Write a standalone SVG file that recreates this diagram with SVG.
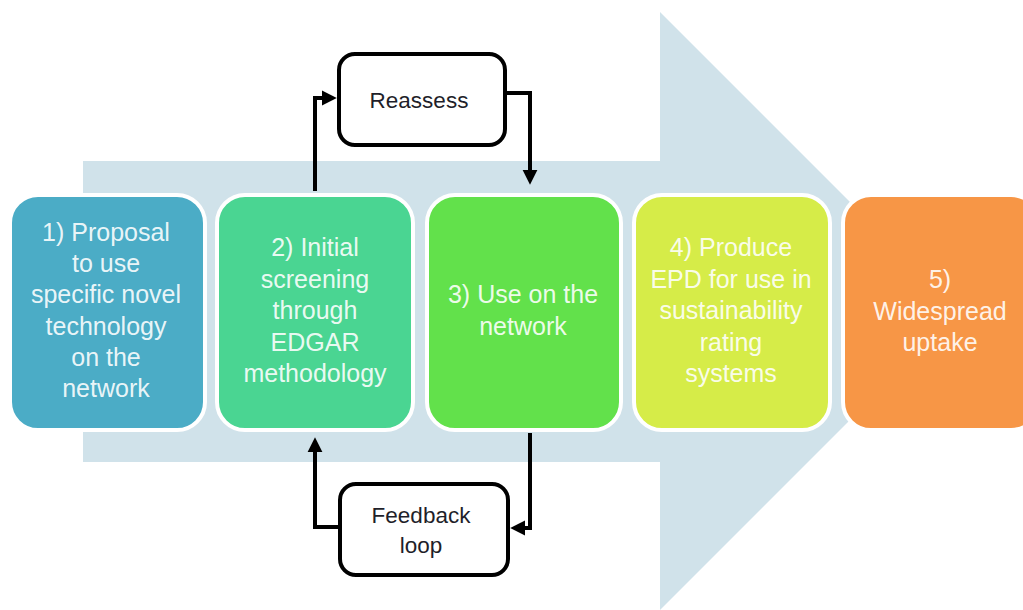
<svg xmlns="http://www.w3.org/2000/svg" width="1023" height="610" viewBox="0 0 1023 610">
<style>
.step{stroke:#fff;stroke-width:4}
.st{font-family:"Liberation Sans",Arial,sans-serif;font-size:25px;fill:#fff;fill-opacity:0.9;text-anchor:middle}
.lb{font-family:"Liberation Sans",Arial,sans-serif;font-size:22.5px;fill:#1f1f2a;text-anchor:middle}
.box{fill:#fff;stroke:#000;stroke-width:4}
.con{fill:none;stroke:#000;stroke-width:4;stroke-linejoin:miter}
</style>
<defs>
<marker id="ah" viewBox="0 0 10 10" refX="0" refY="5" markerWidth="3.7" markerHeight="4" orient="auto" markerUnits="strokeWidth">
<path d="M0,0 L10,5 L0,10 z" fill="#000"/>
</marker>
</defs>
<rect width="1023" height="610" fill="#fff"/>
<polygon id="bigarrow" points="83,161 660,161 660,12 959,311 660,610 660,462 83,462" fill="#d0e2ea"/>
<g id="n1">
<rect class="step" x="10" y="195" width="195" height="235" rx="28" fill="#4bacc6"/>
<text class="st" x="106" y="241">1) Proposal</text>
<text class="st" x="106" y="272">to use</text>
<text class="st" x="106" y="303">specific novel</text>
<text class="st" x="106" y="335">technology</text>
<text class="st" x="106" y="366">on the</text>
<text class="st" x="106" y="397">network</text>
</g>
<g id="n2">
<rect class="step" x="217" y="195" width="196" height="235" rx="28" fill="#4ad592"/>
<text class="st" x="315" y="256">2) Initial</text>
<text class="st" x="315" y="287.5">screening</text>
<text class="st" x="315" y="319">through</text>
<text class="st" x="315" y="350.5">EDGAR</text>
<text class="st" x="315" y="382">methodology</text>
</g>
<g id="n3">
<rect class="step" x="427" y="195" width="194" height="235" rx="28" fill="#62e14b"/>
<text class="st" x="523" y="303">3) Use on the</text>
<text class="st" x="523" y="335">network</text>
</g>
<g id="n4">
<rect class="step" x="634" y="195" width="196" height="235" rx="28" fill="#d6ec48"/>
<text class="st" x="731" y="256">4) Produce</text>
<text class="st" x="731" y="287.5">EPD for use in</text>
<text class="st" x="731" y="319">sustainability</text>
<text class="st" x="731" y="350.5">rating</text>
<text class="st" x="731" y="382">systems</text>
</g>
<g id="n5">
<rect class="step" x="843" y="195" width="196" height="235" rx="28" fill="#f79646"/>
<text class="st" x="940" y="288">5)</text>
<text class="st" x="940" y="319.5">Widespread</text>
<text class="st" x="940" y="351">uptake</text>
</g>
<g id="reassess">
<rect class="box" x="339" y="54" width="166" height="91" rx="16"/>
<text class="lb" x="419" y="108">Reassess</text>
</g>
<g id="feedback">
<rect class="box" x="340" y="484" width="168" height="91" rx="16"/>
<text class="lb" x="421" y="523">Feedback</text>
<text class="lb" x="421" y="553">loop</text>
</g>
<g id="connectors">
<path class="con" d="M315,191 V98 H322" marker-end="url(#ah)"/>
<path class="con" d="M505,93 H530 V170" marker-end="url(#ah)"/>
<path class="con" d="M530,433 V528 H525" marker-end="url(#ah)"/>
<path class="con" d="M340,527 H315 V452" marker-end="url(#ah)"/>
</g>
</svg>
